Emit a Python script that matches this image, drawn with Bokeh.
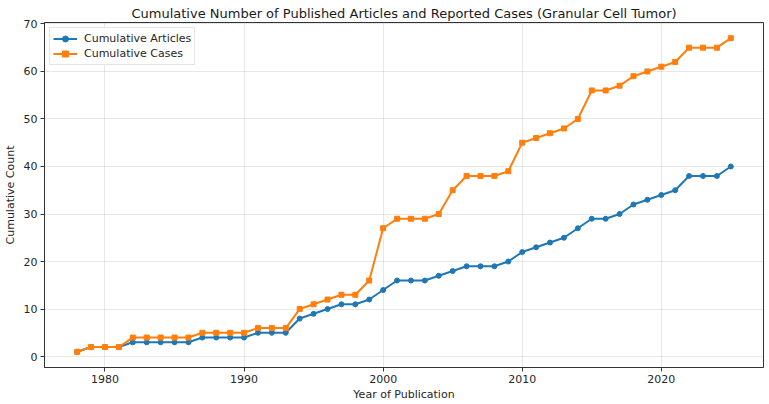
from bokeh.plotting import figure
from bokeh.models import Range1d, FixedTicker, Legend, LegendItem
from bokeh.embed import file_html
from bokeh.resources import INLINE

# Cumulative counts per publication year
years = list(range(1978, 2026))
cumulative_articles = [1, 2, 2, 2, 3, 3, 3, 3, 3, 4, 4, 4, 4, 5, 5, 5,
                       8, 9, 10, 11, 11, 12, 14, 16, 16, 16, 17, 18, 19, 19, 19, 20,
                       22, 23, 24, 25, 27, 29, 29, 30, 32, 33, 34, 35, 38, 38, 38, 40]
cumulative_cases = [1, 2, 2, 2, 4, 4, 4, 4, 4, 5, 5, 5, 5, 6, 6, 6,
                    10, 11, 12, 13, 13, 16, 27, 29, 29, 29, 30, 35, 38, 38, 38, 39,
                    45, 46, 47, 48, 50, 56, 56, 57, 59, 60, 61, 62, 65, 65, 65, 67]
x_ticks = [1980, 1990, 2000, 2010, 2020]
y_ticks = [0, 10, 20, 30, 40, 50, 60, 70]

FONT = "DejaVu Sans"
BLUE = "#1f77b4"
ORANGE = "#ff7f0e"

p = figure(width=769, height=404, output_backend="svg", toolbar_location=None,
           x_range=Range1d(1975.65, 2027.35), y_range=Range1d(-2.3, 70.3),
           min_border_left=42, min_border_right=6, min_border_top=22, min_border_bottom=37)

p.title.text = "Cumulative Number of Published Articles and Reported Cases (Granular Cell Tumor)"
p.title.align = "center"
p.title.text_font = FONT
p.title.text_font_size = "13px"
p.title.text_font_style = "normal"
p.title.text_color = "#1a1a1a"
p.title.offset = 0
p.title.standoff = 4

# Frame and grid
p.outline_line_color = "#333333"
p.outline_line_width = 1
p.background_fill_color = "white"
p.border_fill_color = "white"
for g in (p.xgrid, p.ygrid):
    g.grid_line_color = "#b0b0b0"
    g.grid_line_alpha = 0.3
    g.grid_line_width = 1
p.xgrid.ticker = FixedTicker(ticks=x_ticks)
p.ygrid.ticker = FixedTicker(ticks=y_ticks)

for ax in (p.xaxis, p.yaxis):
    ax.axis_line_color = "#333333"
    ax.major_tick_line_color = "#333333"
    ax.major_tick_out = 4
    ax.major_tick_in = 0
    ax.minor_tick_line_color = None
    ax.major_label_text_font = FONT
    ax.major_label_text_font_size = "11px"
    ax.major_label_text_color = "#262626"
    ax.axis_label_text_font = FONT
    ax.axis_label_text_font_size = "11px"
    ax.axis_label_text_font_style = "normal"
    ax.axis_label_text_color = "#262626"

p.xaxis.ticker = FixedTicker(ticks=x_ticks)
p.yaxis.ticker = FixedTicker(ticks=y_ticks)
p.xaxis.axis_label = "Year of Publication"
p.yaxis.axis_label = "Cumulative Count"
p.xaxis.axis_label_standoff = 2
p.yaxis.axis_label_standoff = 4
p.xaxis.major_label_standoff = 3
p.yaxis.major_label_standoff = 3

# Series
a_line = p.line(years, cumulative_articles, line_color=BLUE, line_width=2)
a_mark = p.scatter(years, cumulative_articles, marker="circle", size=5,
                   fill_color=BLUE, line_color=BLUE)
c_line = p.line(years, cumulative_cases, line_color=ORANGE, line_width=2)
c_mark = p.scatter(years, cumulative_cases, marker="square", size=5,
                   fill_color=ORANGE, line_color=ORANGE)

legend = Legend(items=[
    LegendItem(label="Cumulative Articles", renderers=[a_line, a_mark]),
    LegendItem(label="Cumulative Cases", renderers=[c_line, c_mark]),
], location="top_left")
legend.margin = 5
legend.padding = 3
legend.spacing = 0
legend.glyph_width = 24
legend.glyph_height = 15
legend.label_standoff = 7
legend.label_height = 15
legend.label_text_font = FONT
legend.label_text_font_size = "11px"
legend.label_text_color = "#262626"
legend.border_line_color = "#cccccc"
legend.border_line_width = 1
legend.background_fill_alpha = 0.8
p.add_layout(legend)

open("out.html", "w").write(file_html(p, INLINE))
